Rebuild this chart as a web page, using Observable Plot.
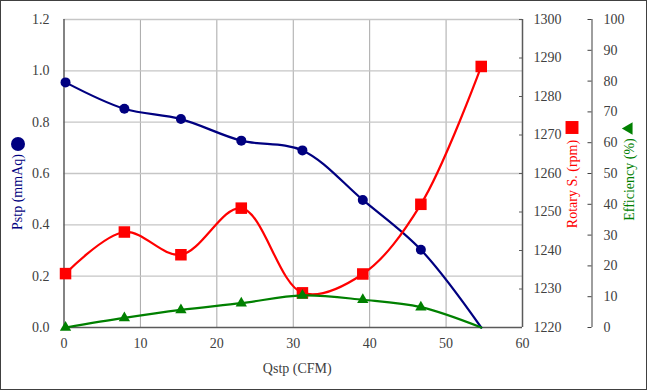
<!DOCTYPE html>
<html><head><meta charset="utf-8">
<script src="https://cdn.jsdelivr.net/npm/d3@7"></script>
<script src="https://cdn.jsdelivr.net/npm/@observablehq/plot@0.6"></script>
<style>
body{margin:0;background:#fff}
#chart svg{outline:1.5px solid #404040;outline-offset:-1.5px;display:block}
#chart svg text{font-family:"Liberation Serif","DejaVu Serif",serif}
</style>
</head><body><div id="chart"></div>
<script>
// Data
const qstp = [0.2, 7.9, 15.3, 23.2, 31.2, 39.1, 46.7, 54.6];          // Qstp (CFM)
const pstp = [0.955, 0.852, 0.812, 0.728, 0.690, 0.497, 0.303, 0.0];  // Pstp (mmAq)
const rpm  = [1234, 1244.8, 1238.9, 1251.0, 1229.0, 1233.9, 1252.0, 1287.8]; // Rotary S. (rpm)
const eff  = [0, 3.1, 5.7, 7.9, 10.4, 9.0, 6.6, 0];                    // Efficiency (%)

const xTicks = [0, 10, 20, 30, 40, 50, 60];
const pstpTicks = [0, 0.2, 0.4, 0.6, 0.8, 1.0, 1.2];
const rpmTicks = [1220, 1230, 1240, 1250, 1260, 1270, 1280, 1290, 1300];
const effTicks = [0, 10, 20, 30, 40, 50, 60, 70, 80, 90, 100];

const pMax = 1.2, rpmMin = 1220, rpmMax = 1300, effMax = 100;
const rpmToY = r => (r - rpmMin) / (rpmMax - rpmMin) * pMax;
const effToY = e => e / effMax * pMax;

const rows = qstp.map((q, i) => ({q, p: pstp[i], r: rpmToY(rpm[i]), e: effToY(eff[i])}));
const notLast = (d, i) => i < rows.length - 1;   // the reference hides the end-point markers

const navy = "#000080", red = "#ff0000", green = "#008000", ink = "#404040";
const serif = "'Liberation Serif', 'DejaVu Serif', serif";

const W = 647, H = 390, mL = 63.5, mR = 125, mT = 19, mB = 63;
const rightX = W - mR;          // right border of plot
const effAxisOffset = 70;       // second right axis offset

const label = (txt, anchor, dx, dy, fill, rotate) =>
  Plot.text([txt], {frameAnchor: anchor, dx, dy, rotate, fill, fontSize: 14, fontFamily: serif,
                    textAnchor: "middle", lineAnchor: "middle"});

const chart = Plot.plot({
  width: W, height: H,
  marginLeft: mL, marginRight: mR, marginTop: mT, marginBottom: mB,
  style: {fontFamily: serif, fontSize: "14px", color: ink, background: "#fff", overflow: "visible"},
  x: {domain: [xTicks[0], xTicks[xTicks.length - 1]]},
  y: {domain: [0, pMax]},
  marks: [
    Plot.gridX({ticks: xTicks.slice(1, -1), stroke: "#a8a8a8", strokeOpacity: 1, strokeWidth: 1}),
    Plot.gridY({ticks: pstpTicks.slice(1), stroke: "#c6c6c6", strokeOpacity: 1, strokeWidth: 1.3}),
    Plot.ruleX([xTicks[0]], {stroke: "#5a5a5a", strokeWidth: 1.5}),
    Plot.ruleX([xTicks[xTicks.length - 1]], {stroke: "#5a5a5a", strokeWidth: 1.5}),
    Plot.ruleY([0], {stroke: "#5a5a5a", strokeWidth: 1.5}),
    Plot.ruleX([xTicks[xTicks.length - 1]], {dx: effAxisOffset - 0.5, stroke: "#6a6a6a", strokeWidth: 1.3}),

    Plot.axisX({ticks: xTicks, tickSize: 0, tickPadding: 10.5, label: null, fill: ink, fontSize: 14, fontFamily: serif}),
    Plot.axisY({anchor: "left", ticks: pstpTicks, tickFormat: d3.format(".1f"), tickSize: 0, tickPadding: 14.5, label: null, fill: ink, fontSize: 14, fontFamily: serif}),
    Plot.axisY({anchor: "right", ticks: rpmTicks.map(rpmToY), tickFormat: d => String(Math.round(rpmMin + d / pMax * (rpmMax - rpmMin))), tickSize: 0, tickPadding: 11, label: null, fill: ink, fontSize: 14, fontFamily: serif}),
    Plot.axisY({anchor: "left", dx: rightX - mL, ticks: rpmTicks.map(rpmToY), tickFormat: () => "", tickSize: 3, label: null, stroke: "#5a5a5a"}),
    Plot.axisY({anchor: "right", dx: effAxisOffset, ticks: effTicks.map(effToY), tickFormat: d => String(Math.round(d / pMax * effMax)), tickSize: 0, tickPadding: 11, label: null, fill: ink, fontSize: 14, fontFamily: serif}),
    Plot.axisY({anchor: "left", dx: rightX - mL + effAxisOffset - 0.5, ticks: effTicks.map(effToY), tickFormat: () => "", tickSize: 4, label: null, stroke: "#404040"}),

    Plot.line(rows, {x: "q", y: "p", stroke: navy, strokeWidth: 2.2, curve: "catmull-rom"}),
    Plot.dot(rows, {x: "q", y: "p", fill: navy, r: 5, filter: notLast}),
    Plot.line(rows, {x: "q", y: "r", stroke: red, strokeWidth: 2.2, curve: "catmull-rom"}),
    Plot.dot(rows, {x: "q", y: "r", fill: red, symbol: "square", r: 6.5}),
    Plot.line(rows, {x: "q", y: "e", stroke: green, strokeWidth: 2.2, curve: "catmull-rom"}),
    Plot.dot(rows, {x: "q", y: "e", fill: green, symbol: "triangle", r: 4.2, filter: notLast}),

    label("Qstp (CFM)", "bottom", 4, 41, ink, 0),
    label("Pstp (mmAq)", "left", -46, 18.5, navy, -90),
    Plot.dot([0], {x: null, y: null, frameAnchor: "left", dx: -46, dy: -29.5, r: 7, fill: navy}),
    label("Rotary S. (rpm)", "right", 50, 10.5, red, -90),
    Plot.dot([0], {x: null, y: null, frameAnchor: "right", dx: 49.5, dy: -46, r: 7.3, symbol: "square", fill: red}),
    label("Efficiency (%)", "right", 107, 6, green, -90),
    Plot.dot([0], {x: null, y: null, frameAnchor: "right", dx: 106.5, dy: -45, r: 4.6, symbol: "triangle", rotate: -90, fill: green})
  ]
});
document.getElementById("chart").append(chart);
</script>
</body></html>
